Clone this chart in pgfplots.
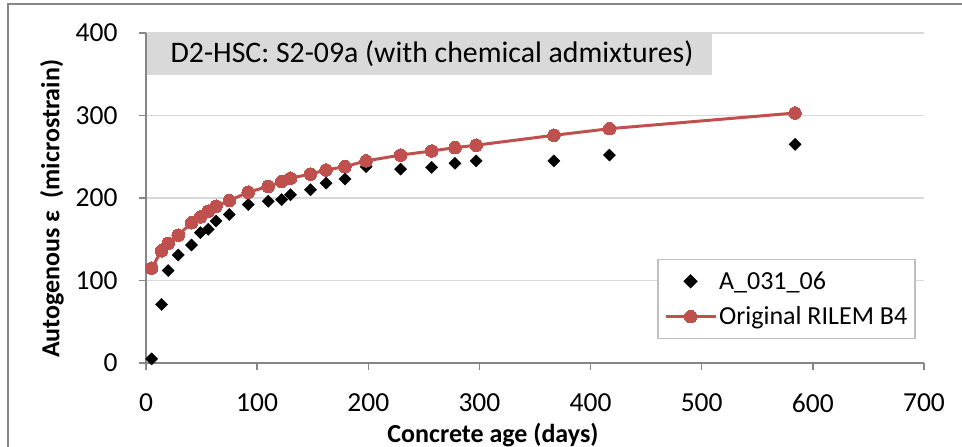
\documentclass[border=0pt]{standalone}
\usepackage{fontspec}
\setmainfont{Carlito}
\usepackage{pgfplots}
\pgfplotsset{compat=1.18}
\definecolor{rilem}{HTML}{C0504D}
\definecolor{axgray}{HTML}{868686}
\definecolor{gridgray}{HTML}{D9D9D9}
\definecolor{titlebox}{HTML}{D9D9D9}
\definecolor{leggray}{HTML}{BFBFBF}
\newcommand{\fs}{\fontsize{27.5}{31}\selectfont}
\newcommand{\fl}{\fontsize{26}{30}\selectfont}
\begin{document}
\begin{tikzpicture}
\useasboundingbox (-146pt,-84pt) rectangle (816pt,363pt);
\draw[color=axgray, line width=1.5pt] (-138pt,-120pt) -- (-138pt,359pt) -- (860pt,359pt);
\begin{axis}[
  scale only axis,
  width=778pt, height=330pt,
  xmin=0, xmax=700, ymin=0, ymax=400,
  xtick={0,100,...,700}, ytick={0,100,...,400},
  axis x line*=bottom, axis y line*=left,
  axis line style={color=axgray, line width=1.5pt, -},
  tick align=outside, major tick length=7pt,
  tick style={color=axgray, line width=1.5pt},
  ymajorgrids, grid style={color=gridgray, line width=1.5pt},
  /pgf/number format/assume math mode=true,
  tick label style={font=\fs, text=black},
  xticklabel style={anchor=center, yshift=-33pt},
  yticklabel style={anchor=east, xshift=-18pt},
  xlabel={\textbf{Concrete age (days)}},
  ylabel={\textbf{Autogenous ε\ \ (microstrain)}},
  label style={font=\fontsize{26}{30}\selectfont},
  xlabel style={at={(axis description cs:0.446,-0.218)}, anchor=center},
  ylabel style={at={(axis description cs:-0.1208,0.467)}, anchor=center, rotate=0},
  clip=false,
  legend cell align=left,
  legend style={at={(0.9897,0.3152)}, anchor=north east, draw=leggray, line width=1.5pt, font=\fl, inner xsep=6pt, inner ysep=10pt, row sep=12pt},
  mylegend/.style={legend image code/.code={\draw[mark repeat=2,mark phase=2,##1] plot coordinates {(0pt,0pt) (25pt,0pt) (50pt,0pt)};}},
]
\fill[titlebox] (axis cs:0.6,400) rectangle (axis cs:509,349);
\node[anchor=west, font=\fontsize{29.8}{34}\selectfont, inner sep=0pt] at (axis cs:22,375) {D2-HSC: S2-09a (with chemical admixtures)};
\addplot[only marks, mark=square*, mark size=4.3pt, mark options={rotate=45, fill=black, draw=black}, mylegend] coordinates {
(5,5) (14,71) (20,112) (29,131) (41,143) (49,158) (56,162) (63,172) (75,180) (92,192) (110,196) (122,198) (130,204) (148,210) (162,218) (179,223) (198,238) (229,235) (257,237) (278,242) (297,245) (367,245) (417,252) (584,265)
};
\addlegendentry{A\_031\_06}
\addplot[color=rilem, line width=3pt, mark=*, mark size=6.3pt, mark options={fill=rilem, draw=rilem, line width=0pt}, mylegend] coordinates {
(5,115) (14,136) (20,145) (29,155) (41,170) (49,177) (56,184) (63,190) (75,197) (92,207) (110,214) (122,220) (130,224) (148,229) (162,234) (179,238) (198,245) (229,252) (257,257) (278,261) (297,264) (367,276) (417,284) (584,303)
};
\addlegendentry{Original RILEM B4}
\end{axis}
\end{tikzpicture}
\end{document}
